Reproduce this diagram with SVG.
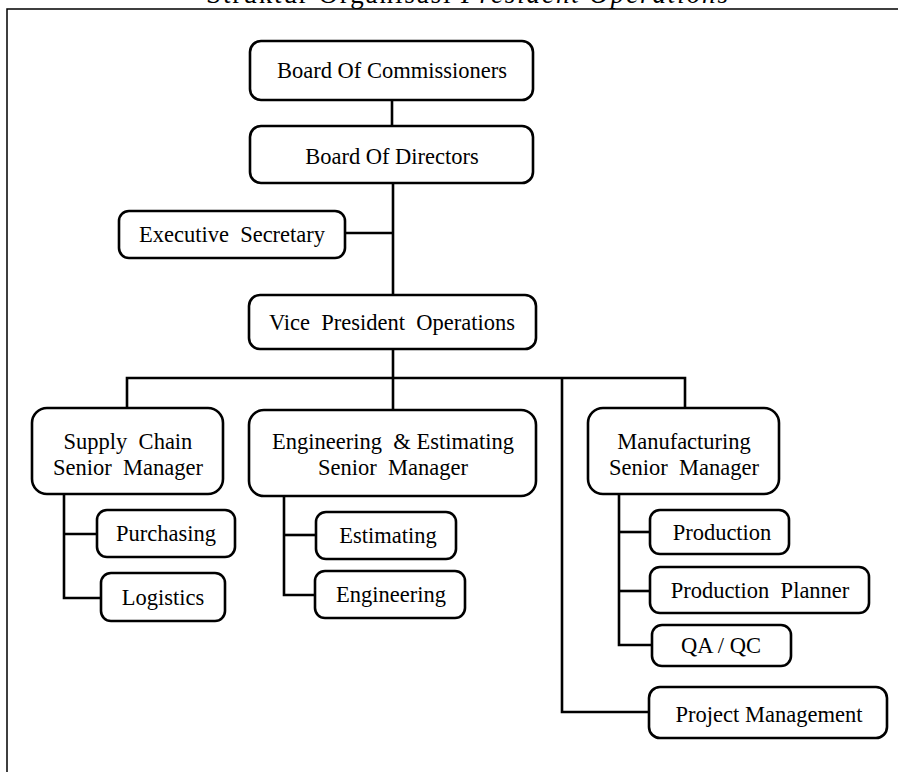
<svg xmlns="http://www.w3.org/2000/svg" width="898" height="772" viewBox="0 0 898 772">
<style>
.box{fill:#fff;stroke:#000;stroke-width:2.6}
.t{font-family:"Liberation Serif","Times New Roman",serif;font-size:22.5px;fill:#000;text-anchor:middle}
.c{fill:none;stroke:#000;stroke-width:2.6}
.frame{fill:none;stroke:#000;stroke-width:1.5}
</style>
<rect width="898" height="772" fill="#fff"/>
<text x="467" y="3" font-family="Liberation Serif,serif" font-size="27" text-anchor="middle" textLength="522" lengthAdjust="spacing">Struktur Organisasi <tspan font-style="italic">President Operations</tspan></text>
<path class="frame" d="M7 772 V9 H898"/>
<g id="connectors">
<path class="c" d="M392 100 V126"/>
<path class="c" d="M393 183 V295"/>
<path class="c" d="M345 233 H393"/>
<path class="c" d="M393 349 V410"/>
<path class="c" d="M127 408 V378 H685 V408"/>
<path class="c" d="M562 378 V712 H649"/>
<path class="c" d="M64 494 V598 H101"/>
<path class="c" d="M64 534 H97"/>
<path class="c" d="M284 496 V595 H315"/>
<path class="c" d="M284 535 H316"/>
<path class="c" d="M619 494 V645 H652"/>
<path class="c" d="M619 532 H650"/>
<path class="c" d="M619 591 H650"/>
</g>
<g id="board-commissioners"><rect class="box" x="250" y="41" width="283" height="59" rx="11"/><text class="t" x="392" y="78">Board Of Commissioners</text></g>
<g id="board-directors"><rect class="box" x="250" y="126" width="283" height="57" rx="11"/><text class="t" x="392" y="164">Board Of Directors</text></g>
<g id="executive-secretary"><rect class="box" x="119" y="211" width="226" height="47" rx="10"/><text class="t" x="232" y="242" xml:space="preserve">Executive  Secretary</text></g>
<g id="vp-operations"><rect class="box" x="249" y="295" width="287" height="54" rx="11"/><text class="t" x="392" y="330" xml:space="preserve">Vice  President  Operations</text></g>
<g id="supply-chain"><rect class="box" x="32" y="408" width="191" height="86" rx="15"/><text class="t" x="128" y="449" xml:space="preserve">Supply  Chain</text><text class="t" x="128" y="475" xml:space="preserve">Senior  Manager</text></g>
<g id="engineering-estimating"><rect class="box" x="249" y="410" width="287" height="86" rx="15"/><text class="t" x="393" y="449" xml:space="preserve">Engineering  &amp; Estimating</text><text class="t" x="393" y="475" xml:space="preserve">Senior  Manager</text></g>
<g id="manufacturing"><rect class="box" x="588" y="408" width="191" height="86" rx="15"/><text class="t" x="684" y="449">Manufacturing</text><text class="t" x="684" y="475" xml:space="preserve">Senior  Manager</text></g>
<g id="purchasing"><rect class="box" x="97" y="510" width="138" height="47" rx="10"/><text class="t" x="166" y="541">Purchasing</text></g>
<g id="logistics"><rect class="box" x="101" y="573" width="124" height="48" rx="10"/><text class="t" x="163" y="605">Logistics</text></g>
<g id="estimating"><rect class="box" x="316" y="512" width="140" height="47" rx="10"/><text class="t" x="388" y="543">Estimating</text></g>
<g id="engineering"><rect class="box" x="315" y="571" width="150" height="47" rx="10"/><text class="t" x="391" y="602">Engineering</text></g>
<g id="production"><rect class="box" x="650" y="510" width="139" height="44" rx="10"/><text class="t" x="722" y="540">Production</text></g>
<g id="production-planner"><rect class="box" x="650" y="567" width="219" height="46" rx="10"/><text class="t" x="760" y="598" xml:space="preserve">Production  Planner</text></g>
<g id="qa-qc"><rect class="box" x="652" y="625" width="139" height="41" rx="10"/><text class="t" x="721" y="653">QA / QC</text></g>
<g id="project-management"><rect class="box" x="649" y="687" width="238" height="51" rx="11"/><text class="t" x="769" y="722">Project Management</text></g>
</svg>
